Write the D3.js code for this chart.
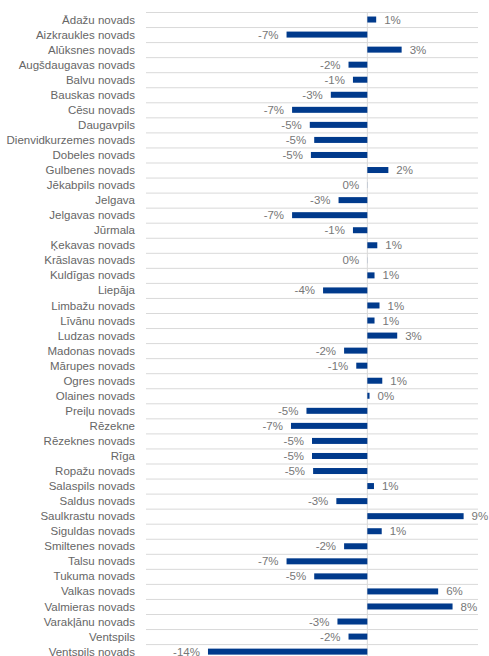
<!DOCTYPE html>
<html>
<head>
<meta charset="utf-8">
<script src="https://cdn.jsdelivr.net/npm/d3@7"></script>
<style>
  body { margin: 0; background: #fff; }
  text { font-family: "Liberation Sans", Arial, sans-serif; }
</style>
</head>
<body>
<script>
const width = 489;
const height = 656;

// municipalities, top to bottom
const names = [
  'Ādažu novads', 'Aizkraukles novads', 'Alūksnes novads', 'Augšdaugavas novads',
  'Balvu novads', 'Bauskas novads', 'Cēsu novads', 'Daugavpils',
  'Dienvidkurzemes novads', 'Dobeles novads', 'Gulbenes novads', 'Jēkabpils novads',
  'Jelgava', 'Jelgavas novads', 'Jūrmala', 'Ķekavas novads', 'Krāslavas novads',
  'Kuldīgas novads', 'Liepāja', 'Limbažu novads', 'Līvānu novads', 'Ludzas novads',
  'Madonas novads', 'Mārupes novads', 'Ogres novads', 'Olaines novads',
  'Preiļu novads', 'Rēzekne', 'Rēzeknes novads', 'Rīga', 'Ropažu novads',
  'Salaspils novads', 'Saldus novads', 'Saulkrastu novads', 'Siguldas novads',
  'Smiltenes novads', 'Talsu novads', 'Tukuma novads', 'Valkas novads',
  'Valmieras novads', 'Varakļānu novads', 'Ventspils', 'Ventspils novads'
];

// change, %
const values = [
  0.8, -7.3, 3.1, -1.7,
  -1.3, -3.3, -6.8, -5.2,
  -4.8, -5.1, 1.9, -0.01,
  -2.6, -6.8, -1.3, 0.9, -0.01,
  0.65, -4.0, 1.1, 0.65, 2.7,
  -2.1, -1.0, 1.35, 0.2,
  -5.5, -6.9, -5.0, -5.0, -4.9,
  0.6, -2.8, 8.7, 1.3,
  -2.1, -7.3, -4.8, 6.4,
  7.7, -2.7, -1.7, -14.4
];

const data = names.map((n, i) => ({ name: n, value: values[i] }));

const svg = d3.select('body').
append('svg').
attr('width', width).
attr('height', height);

const x = d3.scaleLinear().
domain([-20, 10]).
range([146, 478]);

const y = d3.scaleBand().
domain(names).
range([12, 12 + names.length * 15.05]);

const barH = 6;

// horizontal gridlines at category boundaries
const lines = names.map(n => y(n)).concat([y.range()[1]]);
svg.append('g').
selectAll('line').
data(lines).
enter().
append('line').
attr('x1', x.range()[0]).
attr('x2', x.range()[1]).
attr('y1', d => d + 0.5).
attr('y2', d => d + 0.5).
attr('stroke', '#d9d9d9').
attr('stroke-width', 1);

// zero axis
svg.append('line').
attr('x1', x(0)).
attr('x2', x(0)).
attr('y1', y.range()[0]).
attr('y2', y.range()[1]).
attr('stroke', '#d9d9d9').
attr('stroke-width', 1);

// bars
svg.append('g').
selectAll('rect').
data(data).
enter().
append('rect').
attr('x', d => x(Math.min(0, d.value))).
attr('y', d => y(d.name) + (y.bandwidth() - barH) / 2).
attr('width', d => Math.abs(x(d.value) - x(0))).
attr('height', barH).
attr('fill', '#003a8c');

// category labels
svg.append('g').
selectAll('text').
data(data).
enter().
append('text').
attr('x', 135).
attr('y', d => y(d.name) + y.bandwidth() / 2).
attr('dy', '0.35em').
attr('text-anchor', 'end').
attr('font-size', 11.5).
attr('fill', '#666').
text(d => d.name);

// value labels
svg.append('g').
selectAll('text').
data(data).
enter().
append('text').
attr('x', d => d.value < 0 ? x(d.value) - 8 : x(d.value) + 8).
attr('y', d => y(d.name) + y.bandwidth() / 2).
attr('dy', '0.35em').
attr('text-anchor', d => d.value < 0 ? 'end' : 'start').
attr('font-size', 11.5).
attr('fill', '#777').
text(d => Math.round(d.value) === 0 ? '0%' : Math.round(d.value) + '%');
</script>
</body>
</html>
